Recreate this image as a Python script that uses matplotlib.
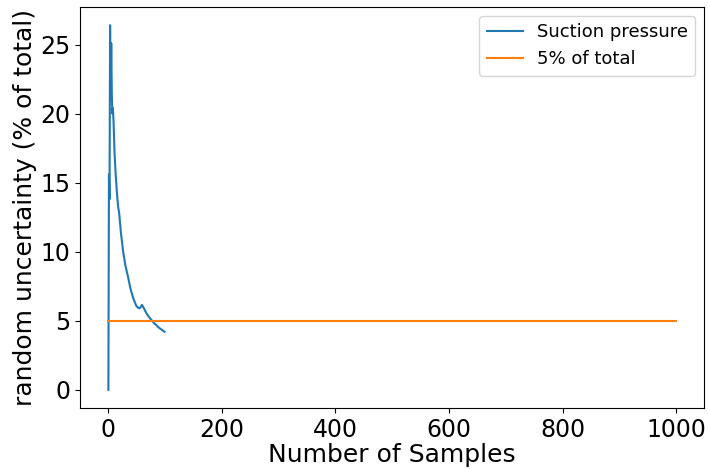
import matplotlib
matplotlib.use("Agg")
import matplotlib.pyplot as plt
import numpy as np

# samples vs random uncertainty (% of total)
samples = [0, 1, 2, 3, 4, 5, 6, 7, 8, 9, 11, 13, 15, 17, 19, 22, 26, 30, 35, 39,
           44, 49, 52, 55, 57, 59, 62, 65, 67, 71, 76, 80, 84, 89, 94, 99]
uncert = [0.0, 15.6, 13.8, 26.4, 21.0, 25.1, 21.5, 20.0, 20.4, 19.5, 17.0, 15.5,
          14.3, 13.3, 12.8, 11.4, 10.0, 9.0, 8.1, 7.3,
          6.6, 6.1, 5.95, 5.9, 6.0, 6.15, 5.95, 5.7, 5.55, 5.3, 5.05, 4.85, 4.7, 4.5, 4.35, 4.2]

ref_x = [0, 1000]
ref_y = [5, 5]

fig, ax = plt.subplots(figsize=(7.08, 4.69), dpi=100)
ax.plot(samples, uncert, label="Suction pressure")
ax.plot(ref_x, ref_y, label="5% of total")
ax.set_xlabel("Number of Samples", fontsize=18, labelpad=1)
ax.set_ylabel("random uncertainty (% of total)", fontsize=18, labelpad=2)
ax.tick_params(labelsize=17)
ax.legend(fontsize=13)
plt.subplots_adjust(left=0.113, right=0.995, top=0.985, bottom=0.13)
plt.savefig("out.png")
